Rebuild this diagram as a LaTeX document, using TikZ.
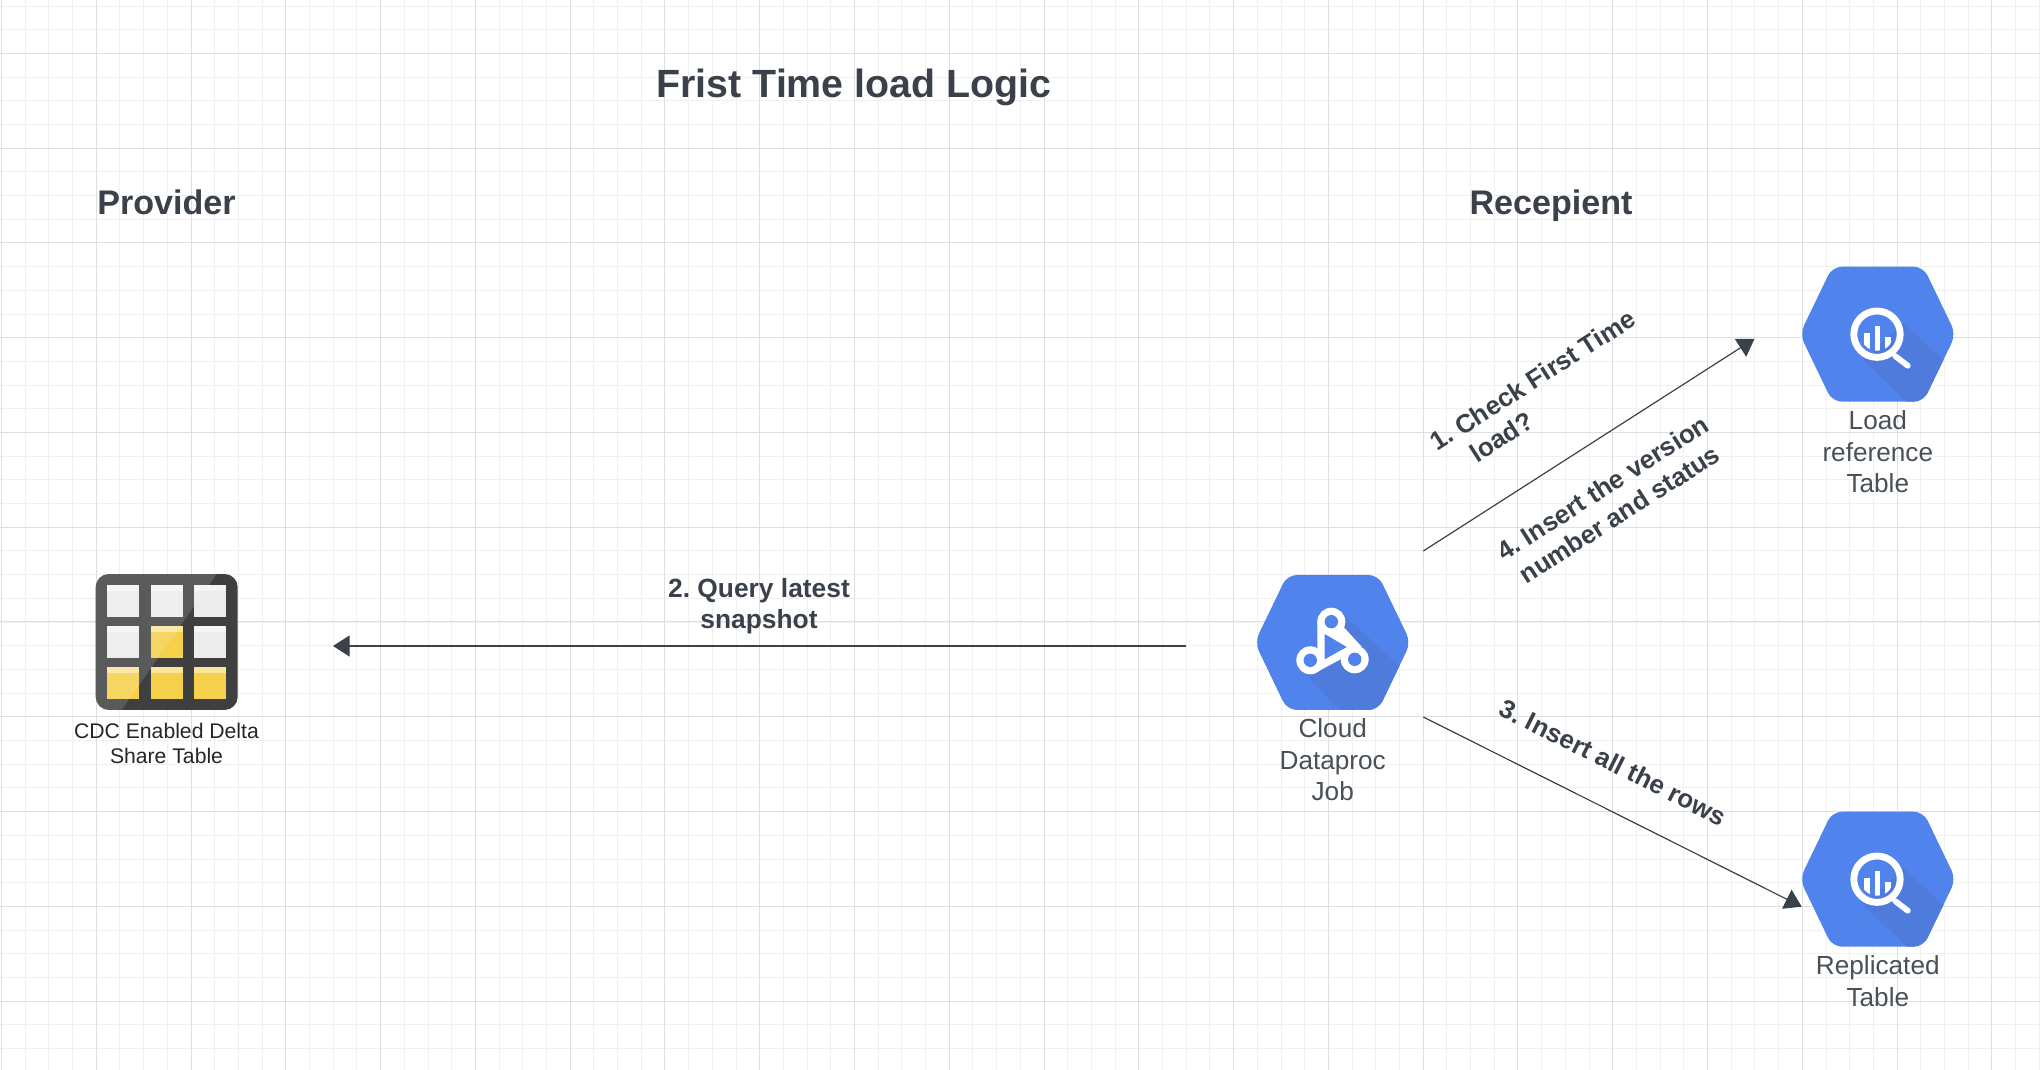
\documentclass[tikz,border=0pt]{standalone}
\usepackage{fontspec}
\setmainfont{Liberation Sans}
\usetikzlibrary{arrows.meta}
\frenchspacing
\definecolor{gridminor}{HTML}{F0F0F0}
\definecolor{gridmajor}{HTML}{DEDEDE}
\definecolor{inkdark}{HTML}{3A414A}
\definecolor{inklabel}{HTML}{4A5058}
\definecolor{hexblue}{HTML}{5084EC}
\definecolor{hexshade}{HTML}{4F7CDC}
\definecolor{tiledark}{HTML}{3F3F3F}
\definecolor{cellgrey}{HTML}{ECECEC}
\definecolor{cellyellow}{HTML}{F5D04A}
\tikzset{
  heading/.style={font=\fontsize{22.4}{26}\selectfont\bfseries,text=inkdark,inner sep=0pt},
  side/.style={font=\fontsize{19.4}{23}\selectfont\bfseries,text=inkdark,inner sep=0pt,anchor=base},
  edgetext/.style={font=\fontsize{15}{17.6}\selectfont\bfseries,text=inkdark,align=center,inner sep=0pt},
  slanttext/.style={font=\fontsize{14.75}{17.6}\selectfont\bfseries,text=inkdark,align=center,inner sep=0pt},
  icontext/.style={font=\fontsize{14.9}{17.9}\selectfont,text=inklabel,align=center,inner sep=0pt},
  tabletext/.style={font=\fontsize{12.05}{14.2}\selectfont,text=black!85,align=center,inner sep=0pt},
  link/.style={draw=inkdark,line width=0.68pt,-{Triangle[length=9.5pt,width=12pt,fill=inkdark]}},
  hexpath/.style={rounded corners=5.5pt},
  pics/bqicon/.style={code={
    \begin{scope}
      \clip[hexpath] (-78,0)--(-45.5,-67.5)--(45.5,-67.5)--(78,0)--(45.5,67.5)--(-45.5,67.5)--cycle;
      \fill[hexblue] (-80,-70) rectangle (80,70);
      \fill[hexshade] (25.5,-11)--(64,24)--(80,40)--(80,70)--(29,67.5)--(-14.5,26)--cycle;
    \end{scope}
    \draw[white,line width=3.9pt] (-0.8,0) circle [radius=23.2];
    \draw[white,line width=3.3pt,line cap=round] (17.5,22)--(30,31.5);
    \begin{scope}
      \clip (-0.8,0) circle [radius=16.5];
      \foreach \a/\b/\c in {-13.5/-7.8/-1,-2.8/2.2/-8,7.5/13.2/2.5}
      \fill[white] (\a,\c) rectangle (\b,18);
    \end{scope}
  }},
  pics/dataprocicon/.style={code={
    \begin{scope}
      \clip[hexpath] (-78,0)--(-45.5,-67.5)--(45.5,-67.5)--(78,0)--(45.5,67.5)--(-45.5,67.5)--cycle;
      \fill[hexblue] (-80,-70) rectangle (80,70);
      \fill[hexshade] (12.3,-25.8)--(64,20.8)--(80,40)--(80,70)--(7.3,67.5)--(-27.7,31.5)--cycle;
    \end{scope}
    \fill[white] (-15.4,-20.8)--(-15.4,14.2)--(-19.4,31.5)--(14,13.5)--(29,4.2)--(9,-17.5)--cycle;
    \fill[hexblue] (-8,-8.5)--(14,4.5)--(-8,16.8)--cycle;
    \foreach \a/\b in {-1.4/-20.8,-22.4/17.8,22/16.8}{
      \fill[white] (\a,\b) circle [radius=14];
      \fill[hexblue] (\a,\b) circle [radius=6.7];
    }
  }},
}
\begin{document}
\begin{tikzpicture}[x=0.02cm,y=-0.02cm]
    \useasboundingbox (0,0) rectangle (2040,1070);
    \fill[white] (0,0) rectangle (2040,1070);
    \foreach \k in {0,...,86}
    \draw[gridminor,line width=0.57pt] ({round(1+\k*23.695)+0.5},0)--({round(1+\k*23.695)+0.5},1070);
    \foreach \k in {0,...,45}
    \draw[gridminor,line width=0.57pt] (0,{round(5.5+\k*23.695)+0.5})--(2040,{round(5.5+\k*23.695)+0.5});
    \foreach \k in {0,...,21}
    \draw[gridmajor,line width=0.57pt] ({round(1+\k*94.78)+0.5},0)--({round(1+\k*94.78)+0.5},1070);
    \foreach \k in {0,...,11}
    \draw[gridmajor,line width=0.57pt] (0,{round(52.8+\k*94.78)+0.5})--(2040,{round(52.8+\k*94.78)+0.5});

    \node[heading] (title) at (854,87) {Frist Time load Logic};
    \node[side] (provider) at (166.5,214.5) {Provider};
    \node[side] (recepient) at (1551,214.5) {Recepient};

    \begin{scope}
      \clip[rounded corners=7.5pt] (95.7,574) rectangle (237.7,710);
      \fill[tiledark] (95,574) rectangle (238,710);
    \end{scope}
    \foreach \a/\b/\c in {107/585/cellgrey,151/585/cellgrey,194/585/cellgrey,
      107/626/cellgrey,151/626/cellyellow,194/626/cellgrey,
      107/667/cellyellow,151/667/cellyellow,194/667/cellyellow}{
      \fill[\c] (\a,\b) rectangle ++(32,32);
      \fill[white,opacity=0.45] (\a,\b) rectangle ++(32,6);
    }
    \begin{scope}
      \clip[rounded corners=7.5pt] (95.7,574) rectangle (237.7,710);
      \fill[white,opacity=0.14] (95,574)--(216.7,574)--(121.7,710)--(95,710)--cycle;
    \end{scope}
    \node[tabletext] (tablelabel) at (166.5,743) {CDC Enabled Delta\\Share Table};

    \pic at (1332.7,642.5) {dataprocicon};
    \node[icontext] (joblabel) at (1332.7,760) {Cloud\\Dataproc\\Job};
    \pic at (1877.8,334.2) {bqicon};
    \node[icontext] (loadlabel) at (1877.8,452) {Load\\reference\\Table};
    \pic at (1877.8,879.2) {bqicon};
    \node[icontext] (replicalabel) at (1877.8,981) {Replicated\\Table};

    \coordinate (jobleft) at (1186,646);
    \coordinate (tableright) at (333,646);
    \coordinate (jobup) at (1423.3,551);
    \coordinate (loadin) at (1754.5,338.8);
    \coordinate (jobdown) at (1423.3,717);
    \coordinate (replicain) at (1801.7,906.7);
    \draw[link] (jobleft)--(tableright);
    \draw[link] (jobup)--(loadin);
    \draw[link] (jobdown)--(replicain);

    \node[edgetext] (querytext) at (759,606.5) {2. Query latest\\snapshot};
    \node[slanttext,rotate=32.6] (checktext) at (1541,393) {1. Check First Time\\load?\hspace*{65pt}};
    \node[slanttext,rotate=32.6] (inserttext) at (1611,501) {4. Insert the version\\number and status};
    \node[slanttext,rotate=-26.6] (rowstext) at (1613.5,762.5) {3. Insert all the rows};
\end{tikzpicture}
\end{document}
